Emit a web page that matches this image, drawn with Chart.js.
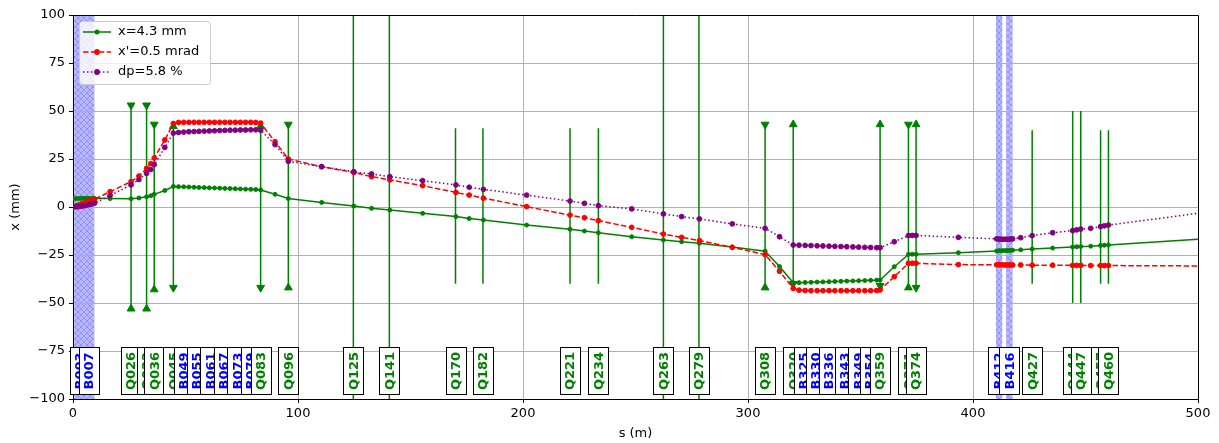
<!DOCTYPE html>
<html>
<head>
<meta charset="utf-8">
<title>Beam orbit</title>
<script src="https://cdn.jsdelivr.net/npm/chart.js@4.4.0/dist/chart.umd.min.js"></script>
<style>
    html, body { margin: 0; padding: 0; background: #fff; }
    canvas { display: block; }
</style>
</head>
<body>
<canvas id="orbit-chart" width="1219" height="443"></canvas>
<script>
'use strict';

// Longitudinal positions of the tracked points (m)
const sPos = [
    0, 1.2, 2.4, 3.6, 4.8, 6.0, 7.2, 8.4, 9.6,
    16.5, 25.8, 29.3, 32.7, 34.6, 36.1, 40.8,
    44.6, 46.9, 49.2, 51.5, 53.8, 56.0, 58.3, 60.6, 62.9, 65.2, 67.5, 69.8, 72.1, 74.4, 76.7, 79.0, 81.2, 83.4,
    89.8, 95.7, 110.5, 124.8, 132.7, 140.8, 155.4, 170.2, 176.1, 182.4, 201.6, 220.9, 227.3, 233.5, 248.3, 262.4, 270.5, 278.4, 293.0, 307.6, 314.0,
    320.1, 322.7, 325.4, 328.0, 330.7, 333.3, 336.0, 338.6, 341.3, 343.9, 346.6, 349.2, 351.9, 354.5, 357.2, 358.7,
    365.0, 371.3, 373.0, 374.7, 393.5,
    410.5, 411.5, 412.5, 413.5, 414.7, 415.7, 416.7, 417.6,
    421.2, 426.3, 435.4, 444.3, 446.1, 447.9, 452.3, 456.7, 458.4, 460.2, 500
];

// x=4.3 mm trajectory (mm)
const xOrbit = [
    4.3, 4.4, 4.4, 4.5, 4.5, 4.5, 4.5, 4.5, 4.5,
    4.4, 4.3, 4.7, 5.3, 5.9, 6.6, 8.6,
    10.7, 10.6, 10.5, 10.4, 10.3, 10.2, 10.1, 10.0, 9.9, 9.8, 9.7, 9.6, 9.5, 9.4, 9.3, 9.2, 9.1, 8.9,
    6.6, 4.4, 2.4, 0.5, -0.7, -1.6, -3.3, -5.0, -6.0, -6.8, -9.4, -11.6, -12.5, -13.4, -15.5, -17.2, -18.1, -18.9, -20.8, -23.0, -31.0,
    -39.4, -39.4, -39.3, -39.2, -39.1, -39.0, -38.9, -38.8, -38.7, -38.6, -38.5, -38.4, -38.3, -38.2, -38.1, -38.0,
    -31.1, -24.7, -24.6, -24.6, -23.8,
    -22.9, -22.8, -22.8, -22.7, -22.7, -22.6, -22.6, -22.5,
    -22.3, -21.9, -21.4, -20.8, -20.7, -20.6, -20.4, -20.0, -19.9, -19.8, -16.8
];

// x'=0.5 mrad trajectory (mm)
const xpOrbit = [
    0, 0.5, 1.0, 1.5, 2.0, 2.5, 3.0, 3.5, 4.0,
    8.0, 13.2, 16.1, 20.1, 22.6, 25.5, 34.9,
    43.5, 44.0, 44.1, 44.1, 44.1, 44.1, 44.1, 44.1, 44.1, 44.1, 44.1, 44.1, 44.1, 44.1, 44.1, 44.1, 44.0, 43.7,
    34.0, 25.0, 21.0, 18.0, 15.8, 14.1, 11.1, 7.6, 6.2, 4.6, 0.2, -4.2, -5.6, -7.1, -10.6, -14.1, -15.8, -17.5, -21.0, -24.8, -33.5,
    -42.4, -43.3, -43.5, -43.6, -43.6, -43.6, -43.6, -43.6, -43.6, -43.6, -43.6, -43.6, -43.6, -43.6, -43.5, -43.2,
    -36.3, -29.3, -29.3, -29.3, -30.0,
    -30.1, -30.1, -30.1, -30.2, -30.2, -30.2, -30.2, -30.2,
    -30.2, -30.3, -30.3, -30.4, -30.4, -30.4, -30.5, -30.5, -30.5, -30.5, -30.7
];

// dp=5.8 % trajectory (mm)
const dpOrbit = [
    0, 0.1, 0.2, 0.4, 0.6, 0.9, 1.2, 1.6, 2.0,
    6.0, 11.5, 14.3, 17.5, 19.5, 22.0, 31.0,
    38.5, 38.8, 39.0, 39.2, 39.3, 39.4, 39.5, 39.6, 39.7, 39.8, 39.9, 40.0, 40.0, 40.1, 40.1, 40.2, 40.2, 40.0,
    32.5, 23.8, 21.0, 18.4, 17.2, 15.8, 13.7, 11.5, 10.3, 9.2, 6.2, 3.1, 1.9, 0.7, -1.0, -3.6, -5.0, -6.2, -8.8, -11.1, -15.5,
    -19.8, -19.9, -20.0, -20.1, -20.2, -20.3, -20.4, -20.5, -20.6, -20.7, -20.8, -20.9, -21.0, -21.1, -21.2, -21.2,
    -18.1, -14.9, -14.8, -14.8, -15.8,
    -16.6, -16.7, -16.8, -16.8, -16.8, -16.8, -16.7, -16.6,
    -16.0, -14.9, -13.4, -12.3, -11.9, -11.5, -11.1, -10.2, -9.8, -9.4, -3.3
];

const seriesLabels = ['x=4.3 mm', "x'=0.5 mrad", 'dp=5.8 %'];

// Quadrupoles: position, marker extents and marker orientation
const quadNames  = ['Q026', 'Q033', 'Q036', 'Q045', 'Q083', 'Q096', 'Q125', 'Q141', 'Q170', 'Q182', 'Q221', 'Q234',
                    'Q263', 'Q279', 'Q308', 'Q320', 'Q359', 'Q371', 'Q374', 'Q427', 'Q444', 'Q447', 'Q457', 'Q460'];
const quadS      = [25.8, 32.7, 36.1, 44.6, 83.4, 95.7, 124.6, 140.6, 170.0, 182.2, 220.9, 233.5,
                    262.4, 278.2, 307.6, 320.1, 358.7, 371.3, 374.7, 426.3, 444.3, 447.9, 456.7, 460.2];
const quadTop    = [53, 53, 43, 42, 42, 43, 110, 110, 41, 41, 41, 41,
                    110, 110, 43, 43, 43, 43, 43, 40, 50, 50, 40, 40];
const quadBottom = [-53, -53, -43, -42, -42, -42, -110, -110, -40, -40, -40, -40,
                    -110, -110, -42, -40, -41, -42, -42, -40, -50, -50, -40, -40];
const quadMarks  = ['in', 'in', 'in', 'out', 'out', 'in', '', '', '', '', '', '',
                    '', '', 'in', 'out', 'out', 'in', 'out', '', '', '', '', ''];

// Dipoles: label positions and shaded extents
const dipNames = ['B003', 'B007', 'B049', 'B055', 'B061', 'B067', 'B073', 'B079',
                  'B325', 'B330', 'B336', 'B343', 'B349', 'B354', 'B412', 'B416'];
const dipS     = [3, 7, 49.3, 55, 61, 67, 73, 79, 324.8, 330, 336, 343, 349, 354, 411.3, 416.1];
const bandStart = [0.5, 5.0, 410.2, 414.7];
const bandEnd   = [5.0, 9.5, 413.0, 417.6];

const xTicks = [0, 100, 200, 300, 400, 500];
const yTicks = [-100, -75, -50, -25, 0, 25, 50, 75, 100];

const FONT = '"DejaVu Sans", sans-serif';
const labelLevel = -85.4;

function toPoints(values) {
    return sPos.map((s, i) => ({ x: s, y: values[i] }));
}

function radii(r) {
    // last point sits on the right edge, matplotlib shows no marker there
    return sPos.map((s, i) => (i === sPos.length - 1 ? 0 : r));
}

function makeHatch(ctx) {
    const c = document.createElement('canvas');
    c.width = 6;
    c.height = 6;
    const g = c.getContext('2d');
    g.fillStyle = 'rgba(0, 0, 255, 0.28)';
    g.fillRect(0, 0, 6, 6);
    g.strokeStyle = 'rgba(0, 0, 255, 0.22)';
    g.lineWidth = 1;
    g.beginPath();
    g.moveTo(0, 0); g.lineTo(6, 6);
    g.moveTo(6, 0); g.lineTo(0, 6);
    g.stroke();
    return ctx.createPattern(c, 'repeat');
}

const datasets = [
    {
        label: seriesLabels[0], data: toPoints(xOrbit),
        borderColor: 'green', backgroundColor: 'green', borderWidth: 1.5,
        pointRadius: radii(2.0), pointBorderWidth: 1, pointBorderColor: 'green',
        order: 3, clip: 0
    },
    {
        label: seriesLabels[1], data: toPoints(xpOrbit),
        borderColor: 'red', backgroundColor: 'red', borderWidth: 1.5, borderDash: [5.5, 2.4],
        pointRadius: radii(2.4), pointBorderWidth: 1, pointBorderColor: 'red',
        order: 2, clip: 0
    },
    {
        label: seriesLabels[2], data: toPoints(dpOrbit),
        borderColor: 'purple', backgroundColor: 'purple', borderWidth: 1.5, borderDash: [1.5, 2.5],
        pointRadius: radii(2.4), pointBorderWidth: 1, pointBorderColor: 'purple',
        order: 1, clip: 0
    }
];

// Quadrupole markers, drawn underneath the trajectories
quadS.forEach((s, i) => {
    const mark = quadMarks[i];
    datasets.push({
        label: quadNames[i],
        data: [{ x: s, y: quadTop[i] }, { x: s, y: quadBottom[i] }],
        borderColor: 'green', backgroundColor: 'green', borderWidth: 1.5,
        pointStyle: 'triangle',
        pointRadius: mark ? 4.5 : 0,
        pointBorderWidth: 1, pointBorderColor: 'green',
        pointRotation: mark === 'in' ? [180, 0] : [0, 180],
        order: 10, clip: 0
    });
});

const bandPlugin = {
    id: 'bands',
    beforeDraw(chart) {
        const { ctx, chartArea, scales } = chart;
        const pattern = makeHatch(ctx);
        ctx.save();
        ctx.beginPath();
        ctx.rect(chartArea.left, chartArea.top, chartArea.right - chartArea.left, chartArea.bottom - chartArea.top);
        ctx.clip();
        ctx.fillStyle = pattern;
        bandStart.forEach((b, i) => {
            const x0 = scales.x.getPixelForValue(b);
            const x1 = scales.x.getPixelForValue(bandEnd[i]);
            ctx.fillRect(x0, chartArea.top, x1 - x0, chartArea.bottom - chartArea.top);
        });
        ctx.restore();
    }
};

const overlayPlugin = {
    id: 'overlay',
    afterDatasetsDraw(chart) {
        const { ctx, chartArea, scales } = chart;

        // top and right spines
        ctx.save();
        ctx.strokeStyle = '#000';
        ctx.lineWidth = 1;
        ctx.beginPath();
        ctx.moveTo(Math.round(chartArea.left) - 0.5, Math.round(chartArea.top) + 0.5);
        ctx.lineTo(Math.round(chartArea.right) + 0.5, Math.round(chartArea.top) + 0.5);
        ctx.lineTo(Math.round(chartArea.right) + 0.5, Math.round(chartArea.bottom));
        ctx.stroke();
        ctx.restore();

        // element labels, sorted along s
        const items = quadNames.map((n, i) => ({ name: n, s: quadS[i], color: 'green' }))
            .concat(dipNames.map((n, i) => ({ name: n, s: dipS[i], color: 'blue' })))
            .sort((a, b) => a.s - b.s);
        const boxW = 20, boxH = 47;
        const py = scales.y.getPixelForValue(labelLevel);
        ctx.save();
        ctx.font = 'bold 13px ' + FONT;
        items.forEach(it => {
            const px = scales.x.getPixelForValue(it.s);
            const bx = Math.round(px - boxW / 2) + 0.5;
            const by = Math.round(py - boxH / 2) + 0.5;
            ctx.fillStyle = '#fff';
            ctx.fillRect(bx, by, boxW, boxH);
            ctx.strokeStyle = '#000';
            ctx.lineWidth = 1;
            ctx.strokeRect(bx, by, boxW, boxH);
            ctx.save();
            ctx.translate(px, py);
            ctx.rotate(-Math.PI / 2);
            ctx.fillStyle = it.color;
            ctx.textAlign = 'center';
            ctx.textBaseline = 'middle';
            ctx.fillText(it.name, 0, 1);
            ctx.restore();
        });
        ctx.restore();

        // legend box
        const lx = chartArea.left + 6, ly = chartArea.top + 6, lw = 131, lh = 63;
        ctx.save();
        ctx.fillStyle = 'rgba(255, 255, 255, 0.8)';
        ctx.strokeStyle = '#cccccc';
        ctx.lineWidth = 1;
        ctx.beginPath();
        ctx.roundRect(lx + 0.5, ly + 0.5, lw, lh, 3);
        ctx.fill();
        ctx.stroke();
        ctx.font = '13px ' + FONT;
        ctx.textBaseline = 'middle';
        datasets.slice(0, 3).forEach((ds, i) => {
            const rowY = ly + 11 + i * 20;
            ctx.strokeStyle = ds.borderColor;
            ctx.lineWidth = 1.5;
            ctx.setLineDash(ds.borderDash || []);
            ctx.beginPath();
            ctx.moveTo(lx + 4, rowY);
            ctx.lineTo(lx + 32, rowY);
            ctx.stroke();
            ctx.setLineDash([]);
            ctx.fillStyle = ds.borderColor;
            ctx.beginPath();
            ctx.arc(lx + 18, rowY, ds.pointRadius[0] + 0.5, 0, Math.PI * 2);
            ctx.fill();
            ctx.fillStyle = '#000';
            ctx.fillText(ds.label, lx + 39, rowY);
        });
        ctx.restore();
    },
    afterDraw(chart) {
        const { ctx, chartArea } = chart;
        ctx.save();
        ctx.fillStyle = '#000';
        ctx.font = '13px ' + FONT;
        ctx.textAlign = 'center';
        ctx.textBaseline = 'middle';
        ctx.fillText('s (m)', (chartArea.left + chartArea.right) / 2, 434);
        ctx.translate(16, (chartArea.top + chartArea.bottom) / 2);
        ctx.rotate(-Math.PI / 2);
        ctx.fillText('x (mm)', 0, 0);
        ctx.restore();
    }
};

const tickFont = { family: FONT, size: 13 };

new Chart(document.getElementById('orbit-chart'), {
    type: 'line',
    data: { datasets: datasets },
    plugins: [bandPlugin, overlayPlugin],
    options: {
        responsive: false,
        animation: false,
        devicePixelRatio: 1,
        events: [],
        layout: { padding: { left: 0, right: 21, top: 15, bottom: 0 } },
        plugins: { legend: { display: false }, tooltip: { enabled: false } },
        elements: { line: { tension: 0 } },
        scales: {
            x: {
                type: 'linear', min: 0, max: 500,
                afterFit(scale) { scale.height = 44; },
                afterBuildTicks(scale) { scale.ticks = xTicks.map(v => ({ value: v })); },
                ticks: { color: '#000', font: tickFont, padding: 3, maxRotation: 0 },
                grid: { color: '#b0b0b0', lineWidth: 1, tickColor: '#000', tickLength: 4 },
                border: { color: '#000', width: 1 }
            },
            y: {
                type: 'linear', min: -100, max: 100,
                afterFit(scale) { scale.width = 73; },
                afterBuildTicks(scale) { scale.ticks = yTicks.map(v => ({ value: v })); },
                ticks: {
                    color: '#000', font: tickFont, padding: 4,
                    callback: v => String(v).replace('-', '\u2212')
                },
                grid: { color: '#b0b0b0', lineWidth: 1, tickColor: '#000', tickLength: 4 },
                border: { color: '#000', width: 1 }
            }
        }
    }
});
</script>
</body>
</html>
